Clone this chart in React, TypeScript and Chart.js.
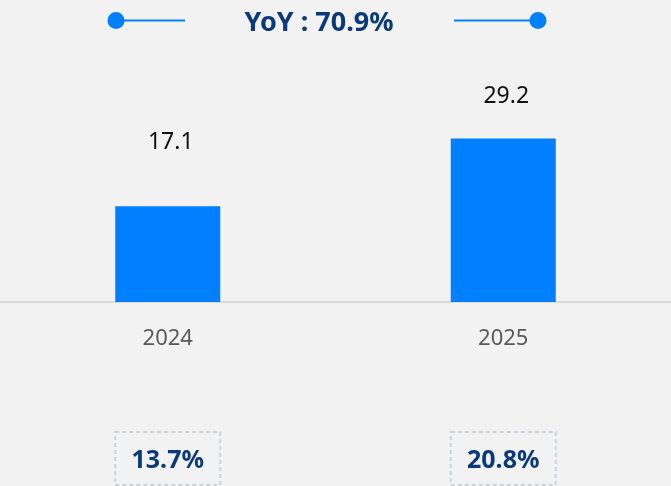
import React, { useEffect, useRef } from "react";
import { Chart, registerables } from "chart.js";

Chart.register(...registerables);

const categories = ["2024", "2025"];
const values = [17.1, 29.2];
const shares = ["13.7%", "20.8%"];
const yoyText = "YoY : 70.9%";

const BLUE = "#0080ff";
const NAVY = "#0b3a7a";
const FONT = "'Noto Sans', 'DejaVu Sans', sans-serif";

const overlayPlugin = {
  id: "overlay",
  beforeDraw(chart: any) {
    const { ctx, width, height } = chart;
    ctx.save();
    ctx.fillStyle = "#f2f2f2";
    ctx.fillRect(0, 0, width, height);
    ctx.restore();
  },
  afterDraw(chart: any) {
    const { ctx } = chart;
    const meta = chart.getDatasetMeta(0);
    ctx.save();

    // title with decorative lines and dots
    ctx.font = `bold 27px ${FONT}`;
    ctx.fillStyle = NAVY;
    ctx.textAlign = "center";
    ctx.textBaseline = "alphabetic";
    ctx.fillText(yoyText, 319, 30.5);

    ctx.strokeStyle = BLUE;
    ctx.fillStyle = BLUE;
    ctx.lineWidth = 2;
    ctx.beginPath();
    ctx.moveTo(116, 20.5);
    ctx.lineTo(185, 20.5);
    ctx.moveTo(454, 20.5);
    ctx.lineTo(538, 20.5);
    ctx.stroke();
    ctx.beginPath();
    ctx.arc(116, 20.5, 8.5, 0, Math.PI * 2);
    ctx.fill();
    ctx.beginPath();
    ctx.arc(538, 20.5, 8.5, 0, Math.PI * 2);
    ctx.fill();

    meta.data.forEach((bar: any, i: number) => {
      // value labels
      ctx.font = `23px ${FONT}`;
      ctx.fillStyle = "#111111";
      ctx.textAlign = "center";
      ctx.textBaseline = "alphabetic";
      ctx.fillText(String(values[i]), bar.x + 3, bar.y * 0.687 + 7.4);

      // dashed share boxes
      const w = bar.width;
      const left = bar.x - w / 2;
      const top = 432;
      const h = 53;
      ctx.setLineDash([4, 3]);
      ctx.strokeStyle = "#cbd3dd";
      ctx.lineWidth = 2;
      ctx.strokeRect(left, top, w, h);
      ctx.setLineDash([]);
      ctx.font = `bold 25px ${FONT}`;
      ctx.fillStyle = NAVY;
      ctx.fillText(shares[i], bar.x, top + 36.3);
    });

    ctx.restore();
  },
};

export default function App() {
  const ref = useRef<HTMLCanvasElement | null>(null);

  useEffect(() => {
    document.body.style.margin = "0";
    document.body.style.background = "#f2f2f2";
    const canvas = ref.current;
    if (!canvas) return;
    const chart = new Chart(canvas, {
      type: "bar",
      data: {
        labels: categories,
        datasets: [
          {
            data: values,
            backgroundColor: BLUE,
            barPercentage: 0.313,
            categoryPercentage: 1,
          },
        ],
      },
      options: {
        animation: false,
        responsive: false,
        devicePixelRatio: 1,
        layout: { padding: { top: 50, left: 0, right: 0, bottom: 0 } },
        plugins: {
          legend: { display: false },
          tooltip: { enabled: false },
          title: { display: false },
        },
        scales: {
          x: {
            grid: { display: false, drawTicks: false },
            border: { display: true, color: "#d9d9d9", width: 2 },
            ticks: {
              color: "#595959",
              font: { family: FONT, size: 22 },
              padding: 24,
            },
            afterFit: (scale: any) => {
              scale.height = 184;
            },
          },
          y: {
            display: false,
            min: 0,
            max: 45,
          },
        },
      },
      plugins: [overlayPlugin],
    });
    return () => chart.destroy();
  }, []);

  return (
    <div style={{ width: 671, height: 486, background: "#f2f2f2" }}>
      <canvas ref={ref} width={671} height={486} style={{ display: "block" }} />
    </div>
  );
}
